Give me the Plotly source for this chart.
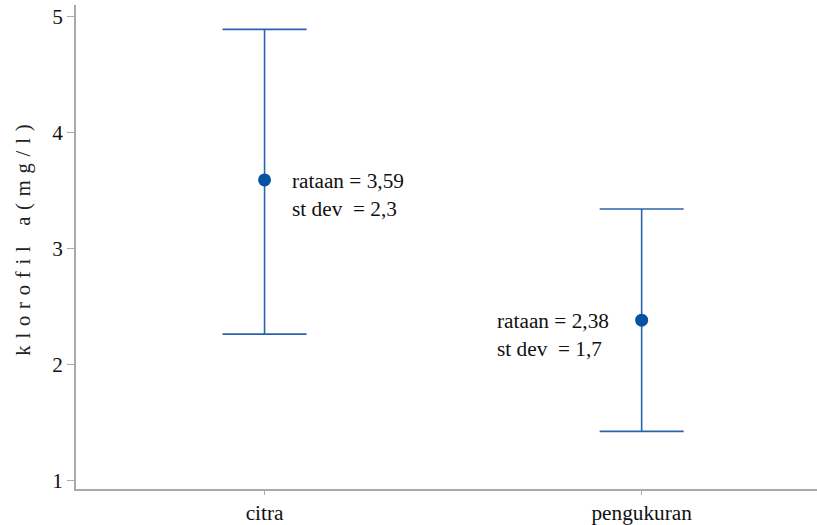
import plotly.graph_objects as go

categories = ["citra", "pengukuran"]
means = [3.59, 2.38]
upper = [4.89, 3.34]
lower = [2.26, 1.42]
line1 = ["rataan = 3,59", "rataan = 2,38"]
line2 = ["st dev  = 2,3", "st dev  = 1,7"]
y_ticks = [1, 2, 3, 4, 5]
y_title = "k l o r o f i l   a ( m g / l )"

plus = [u - m for u, m in zip(upper, means)]
minus = [m - l for m, l in zip(means, lower)]

FONT = '"Liberation Serif", "Times New Roman", Times, serif'
FS = 21.3

fig = go.Figure()
fig.add_trace(go.Scatter(
    x=categories, y=means, mode="markers",
    marker=dict(size=13, color="#0652a3"),
    error_y=dict(type="data", symmetric=False, array=plus, arrayminus=minus,
                 color="#2a63ad", thickness=1.6, width=42),
    showlegend=False, hoverinfo="skip",
))

xshifts = [25, -147]
for i, c in enumerate(categories):
    for j, txt in enumerate([line1[i], line2[i]]):
        fig.add_annotation(x=c, y=means[i], text=txt.replace(" ", "&nbsp;"), showarrow=False,
                           xanchor="left", xshift=xshifts[i],
                           yshift=-1 - 28 * j, yanchor="middle",
                           font=dict(family=FONT, size=FS, color="#111"),
                           align="left")

fig.add_annotation(xref="paper", yref="paper", x=-52 / 741, y=0.513,
                   text=y_title.replace(" ", "&nbsp;&#8202;"), textangle=-90, showarrow=False,
                   xanchor="center", yanchor="middle",
                   font=dict(family=FONT, size=20.5, color="#222"))

fig.update_layout(
    width=817, height=525,
    margin=dict(l=76, r=0, t=5, b=33),
    plot_bgcolor="white", paper_bgcolor="white",
    font=dict(family=FONT, size=FS, color="#222"),
    xaxis=dict(type="category", range=[-0.5, 1.465], showgrid=False,
               showline=True, linecolor="#aaaaaa", linewidth=1.5,
               ticks="outside", ticklen=4, tickcolor="#aaaaaa", tickwidth=1,
               tickfont=dict(family=FONT, size=FS, color="#111"), zeroline=False),
    yaxis=dict(range=[0.923, 5.10], tickvals=y_ticks, showgrid=False,
               showline=True, linecolor="#aaaaaa", linewidth=1.5,
               ticks="outside", ticklen=7, tickcolor="#aaaaaa", tickwidth=1,
               tickfont=dict(family=FONT, size=FS, color="#111"), zeroline=False),
)

fig.write_html("out.html", config={"displayModeBar": False},
               post_script="document.body.style.margin='0';")
